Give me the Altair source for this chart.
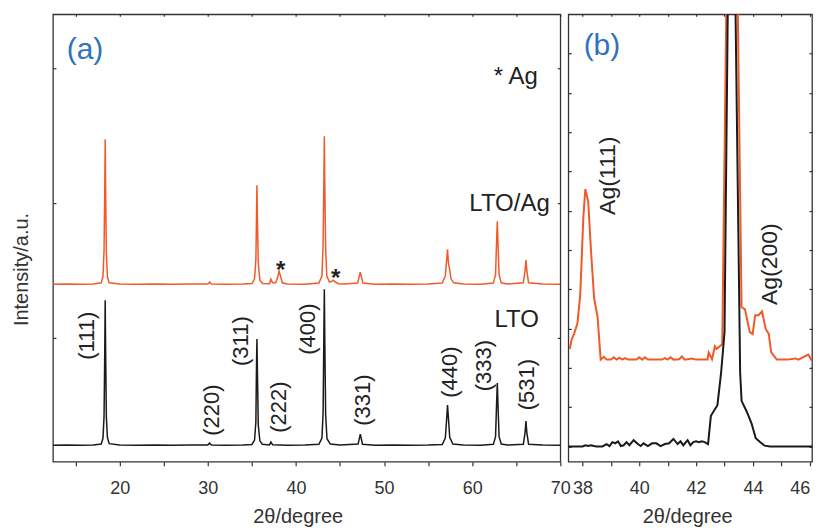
import altair as alt
import pandas as pd

FONT = "Liberation Sans"
ORANGE = "#F05A28"
BLACK = "#1A1A1A"
BLUE = "#2F72BE"
FRAME = "#333333"
TXT = "#222222"

# ---------------- data: panel (a), (2theta, intensity) ----------------
lto_a = [(12.42, 207), (14.0, 209), (15.5, 206), (17.0, 208), (17.9, 215), (18.1, 260),
         (18.22, 420), (18.3, 900), (18.35, 1281), (18.4, 900), (18.48, 420), (18.6, 265),
         (18.8, 218), (20.0, 208), (22.0, 206), (24.0, 209), (26.0, 207), (28.0, 208),
         (30.0, 209), (30.2, 222), (30.4, 208), (32.0, 207), (34.0, 208), (35.0, 212),
         (35.3, 245), (35.45, 380), (35.52, 800), (35.57, 993), (35.62, 780), (35.72, 360),
         (35.9, 240), (36.2, 213), (37.0, 209), (37.15, 230), (37.35, 210), (39.0, 207),
         (41.0, 208), (42.6, 214), (42.95, 260), (43.08, 450), (43.17, 1050), (43.22, 1363),
         (43.27, 1000), (43.37, 430), (43.52, 255), (43.9, 215), (45.0, 208), (47.05, 215),
         (47.3, 289), (47.55, 214), (49.0, 207), (51.0, 208), (53.0, 206), (55.0, 208),
         (56.6, 212), (56.95, 260), (57.1, 400), (57.2, 504), (57.3, 410), (57.45, 265),
         (57.8, 215), (59.0, 208), (61.0, 207), (62.4, 213), (62.65, 270), (62.77, 520),
         (62.85, 667), (62.93, 500), (63.05, 270), (63.3, 215), (64.0, 208), (65.8, 214),
         (66.0, 300), (66.1, 385), (66.2, 300), (66.4, 214), (68.0, 208), (70.0, 207)]

ag_a = [(12.42, 1400), (14.0, 1402), (15.5, 1399), (17.0, 1401), (17.9, 1410), (18.1, 1460),
        (18.22, 1650), (18.3, 2100), (18.35, 2474), (18.4, 2100), (18.48, 1640), (18.6, 1455),
        (18.8, 1410), (20.0, 1401), (22.0, 1399), (24.0, 1402), (26.0, 1400), (28.0, 1401),
        (30.0, 1402), (30.2, 1415), (30.4, 1401), (32.0, 1400), (34.0, 1401), (35.0, 1405),
        (35.3, 1440), (35.45, 1580), (35.52, 1900), (35.57, 2133), (35.62, 1900), (35.72, 1560),
        (35.9, 1430), (36.2, 1405), (37.0, 1403), (37.15, 1437), (37.35, 1410), (37.7, 1410),
        (37.9, 1445), (38.08, 1496), (38.25, 1460), (38.45, 1410), (39.0, 1401), (41.0, 1400),
        (42.6, 1408), (42.95, 1460), (43.08, 1700), (43.17, 2200), (43.22, 2496), (43.27, 2150),
        (43.37, 1660), (43.5, 1460), (43.8, 1415), (44.0, 1420), (44.2, 1430), (44.45, 1418),
        (44.8, 1404), (45.5, 1401), (47.0, 1408), (47.3, 1489), (47.6, 1408), (49.0, 1400),
        (51.0, 1401), (53.0, 1399), (55.0, 1401), (56.6, 1408), (56.95, 1460), (57.1, 1580),
        (57.2, 1659), (57.3, 1560), (57.45, 1504), (57.6, 1440), (57.9, 1410), (59.0, 1401),
        (61.0, 1400), (62.4, 1408), (62.65, 1470), (62.77, 1720), (62.85, 1867), (62.93, 1700),
        (63.05, 1470), (63.3, 1410), (64.0, 1401), (65.8, 1410), (66.0, 1500), (66.1, 1578),
        (66.2, 1500), (66.4, 1410), (68.0, 1401), (70.0, 1400)]

# ---------------- data: panel (b), zoom 37.5-46.1 ----------------
lto_b = [(37.5, 0), (38.0, 0), (38.1, 3), (38.2, 1), (38.3, 3), (38.4, 1), (38.5, 0), (38.7, 0),
         (38.85, 6), (38.95, 1), (39.05, 11), (39.15, 8), (39.25, 13), (39.35, 1), (39.45, 3),
         (39.55, 11), (39.65, 3), (39.8, 16), (39.95, 6), (40.05, 1), (40.15, 8), (40.3, 1),
         (40.45, 8), (40.6, 8), (40.75, 1), (40.9, 6), (41.05, 8), (41.2, 19), (41.35, 6),
         (41.45, 13), (41.55, 3), (41.7, 16), (41.8, 3), (41.9, 11), (42.0, 13), (42.1, 11),
         (42.2, 13), (42.3, 11), (42.42, 6), (42.52, 78), (42.75, 105), (42.88, 188), (43.0, 291),
         (43.12, 1150), (43.25, 1500), (43.38, 1150), (43.55, 188), (43.6, 116), (43.78, 89),
         (43.95, 59), (44.1, 21), (44.24, 12), (44.41, 2), (44.6, 0), (46.41, 0)]

ag_b = [(37.55, 248), (37.62, 273), (37.7, 286), (37.82, 313), (37.92, 385), (38.03, 583),
        (38.1, 655), (38.2, 624), (38.3, 497), (38.41, 377), (38.53, 330), (38.64, 221),
        (38.75, 228), (38.85, 221), (39.0, 221), (39.1, 227), (39.2, 221), (39.3, 226),
        (39.4, 221), (39.5, 225), (39.6, 221), (39.75, 221), (39.9, 221), (40.0, 227),
        (40.1, 221), (40.2, 227), (40.3, 221), (40.5, 221), (40.8, 221), (40.9, 225),
        (41.0, 221), (41.1, 227), (41.2, 221), (41.4, 222), (41.5, 229), (41.6, 221),
        (41.85, 224), (42.0, 221), (42.4, 221), (42.44, 239), (42.56, 222), (42.66, 255),
        (42.72, 248), (42.8, 253), (42.92, 260), (43.07, 1150), (43.25, 1600), (43.46, 1150),
        (43.6, 355), (43.72, 349), (43.89, 291), (43.99, 286), (44.08, 334), (44.2, 334),
        (44.32, 344), (44.45, 299), (44.56, 286), (44.64, 240), (44.84, 221), (45.2, 221),
        (45.5, 224), (45.6, 221), (45.95, 234), (46.05, 221), (46.2, 223), (46.41, 222)]

# ---------------- annotations ----------------
peak_labels = ["(111)", "(220)", "(311)", "(222)", "(400)", "(331)", "(440)", "(333)", "(531)"]
peak_label_x = [16.33, 30.44, 33.73, 38.05, 41.34, 47.58, 57.46, 61.37, 66.25]
peak_label_y = [1018, 467, 978, 489, 1067, 541, 748, 796, 656]

sample_labels = ["* Ag", "LTO/Ag", "LTO"]
sample_label_x = [67.45, 68.8, 67.56]
sample_label_y = [2881, 1941, 1081]

star_x = [38.27, 44.5]
star_y = [1444, 1385]

ag_peak_labels = ["Ag(111)", "Ag(200)"]
ag_peak_x = [38.9, 44.59]
ag_peak_y = [689, 464]

panel_tags = ["(a)", "(b)"]

a_ticks_x = list(range(15, 71, 5))
a_ticks_y = [1000, 2000, 3000]
b_ticks_x = list(range(38, 47))
b_ticks_y = list(range(0, 1001, 100))


def table(pairs, name):
    return pd.DataFrame({"two_theta": [p[0] for p in pairs],
                         "intensity": [p[1] for p in pairs],
                         "sample": name})


df_a = pd.concat([table(ag_a, "LTO/Ag"), table(lto_a, "LTO")], ignore_index=True)
df_b = pd.concat([table(ag_b, "LTO/Ag"), table(lto_b, "LTO")], ignore_index=True)

color_scale = alt.Scale(domain=["LTO", "LTO/Ag"], range=[BLACK, ORANGE])
common = dict(grid=False, domain=False, tickColor=FRAME, tickWidth=1.2,
              labelFont=FONT, titleFont=FONT, labelColor="#333333",
              titleColor="#333333", titleFontWeight="normal")


def panel(df, xs, ys, xticks, xlabel_expr, yticks, title_x, y_title, lw, last_tick):
    x_bottom = alt.Axis(orient="bottom", values=xticks, labelExpr=xlabel_expr, tickSize=4,
                        labelPadding=14, labelFontSize=18, labelFlush=False,
                        labelAlign={"condition": {"test": f"datum.value === {last_tick}",
                                                  "value": "right"},
                                    "value": "center"},
                        title="2θ/degree", titleFontSize=20, titleX=title_x, titleY=61,
                        titleAlign="center", titleBaseline="alphabetic", **common)
    if y_title:
        y_left = alt.Axis(orient="left", values=yticks, labels=False, tickSize=3, offset=-3,
                          title="Intensity/a.u.", titleFontSize=20, titleX=-34, titleY=255,
                          titleAngle=270, titleAlign="center", titleBaseline="middle", **common)
    else:
        y_left = alt.Axis(orient="left", values=yticks, labels=False, tickSize=3, offset=-3,
                          title=None, **common)
    lines = alt.Chart(df).mark_line(strokeWidth=lw, clip=True).encode(
        x=alt.X("two_theta:Q", scale=xs, axis=x_bottom),
        y=alt.Y("intensity:Q", scale=ys, axis=y_left),
        color=alt.Color("sample:N", scale=color_scale, legend=None),
    )
    mirror = alt.Chart(df).mark_line(strokeOpacity=0, clip=True).encode(
        x=alt.X("two_theta:Q", scale=xs,
                axis=alt.Axis(orient="top", values=xticks, labels=False, tickSize=2,
                              offset=-2, title=None, **common)),
        y=alt.Y("intensity:Q", scale=ys,
                axis=alt.Axis(orient="right", values=yticks, labels=False, tickSize=3,
                              offset=-3, title=None, **common)),
        detail="sample:N",
    )
    return lines, mirror


def text_layer(texts, xv, yv, xs, ys, **mark):
    d = pd.DataFrame({"t": texts, "x": xv, "y": yv})
    return alt.Chart(d).mark_text(font=FONT, **mark).encode(
        x=alt.X("x:Q", scale=xs, axis=None),
        y=alt.Y("y:Q", scale=ys, axis=None),
        text="t:N",
    )


xa = alt.Scale(domain=[12.42, 70], nice=False, zero=False)
ya = alt.Scale(domain=[84, 3400], nice=False, zero=False)
xb = alt.Scale(domain=[37.5, 46.08], nice=False, zero=False)
yb = alt.Scale(domain=[-39, 1100], nice=False, zero=False)

lines_a, mirror_a = panel(df_a, xa, ya, a_ticks_x, "datum.value % 10 == 0 ? datum.label : ''",
                          a_ticks_y, 245, True, 1.5, 999)
panel_a = alt.layer(
    lines_a, mirror_a,
    text_layer(peak_labels, peak_label_x, peak_label_y, xa, ya, angle=270, fontSize=22,
               color=TXT, align="center", baseline="middle"),
    text_layer(sample_labels, sample_label_x, sample_label_y, xa, ya, fontSize=24,
               color=TXT, align="right", baseline="alphabetic"),
    text_layer(["*", "*"], star_x, star_y, xa, ya, fontSize=24, fontWeight="bold",
               color=TXT, align="center", baseline="alphabetic"),
    text_layer([panel_tags[0]], [13.98], [3133], xa, ya, fontSize=30, color=BLUE,
               align="left", baseline="middle"),
).resolve_axis(x="independent", y="independent").properties(width=508, height=448)

lines_b, mirror_b = panel(df_b, xb, yb, b_ticks_x, "datum.value % 2 == 0 ? datum.label : ''",
                          b_ticks_y, 119, False, 2, 46)
panel_b = alt.layer(
    lines_b, mirror_b,
    text_layer(ag_peak_labels, ag_peak_x, ag_peak_y, xb, yb, angle=270, fontSize=23,
               color=TXT, align="center", baseline="middle"),
    text_layer([panel_tags[1]], [38.04], [1019], xb, yb, fontSize=30, color=BLUE,
               align="left", baseline="middle"),
).resolve_axis(x="independent", y="independent").properties(width=244, height=448)

chart = alt.hconcat(panel_a, panel_b, spacing=8, bounds="flush").configure_view(
    stroke=FRAME, strokeWidth=1.3
).properties(padding={"left": 3, "top": 4, "right": 0, "bottom": 0})

chart.save("out.html", embed_options={"renderer": "svg", "actions": False})
